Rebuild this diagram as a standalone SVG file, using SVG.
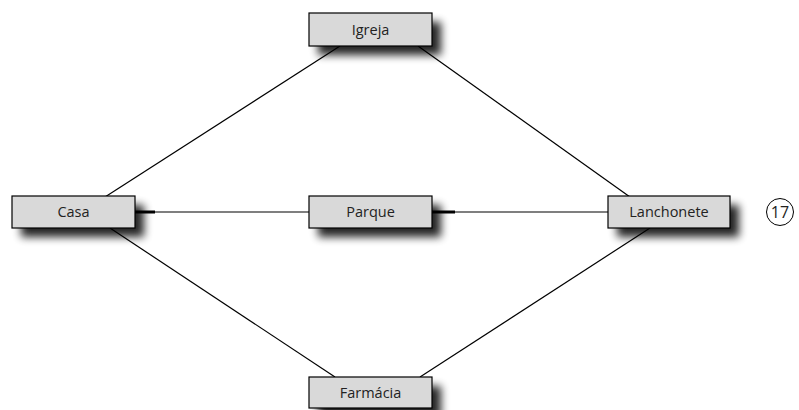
<svg xmlns="http://www.w3.org/2000/svg" width="799" height="410" viewBox="0 0 799 410">
<defs>
<filter id="sh" x="-30%" y="-60%" width="160%" height="220%">
<feGaussianBlur stdDeviation="4"/>
</filter>
<style>
.box{fill:#d9d9d9;stroke:#000;stroke-width:1.2}
.shd{fill:#000;opacity:0.85;filter:url(#sh)}
.lbl{font-family:"Open Sans","Noto Sans",sans-serif;font-size:14.5px;fill:#222;text-anchor:middle}
.ln{stroke:#000;stroke-width:1.2;fill:none}
.thick{stroke:#000;stroke-width:3;fill:none}
</style>
</defs>
<g id="connectors">
<line class="ln" x1="105" y1="197" x2="340" y2="46"/>
<line class="ln" x1="418" y1="46" x2="630" y2="197"/>
<line class="ln" x1="110" y1="228" x2="335" y2="377"/>
<line class="ln" x1="650" y1="228" x2="420" y2="377"/>
<line class="ln" x1="135" y1="212" x2="309" y2="212"/>
<line class="ln" x1="432" y1="212" x2="608" y2="212"/>
<line class="thick" x1="135" y1="212" x2="155" y2="212"/>
<line class="thick" x1="432" y1="212" x2="455" y2="212"/>
</g>
<g id="igreja">
<rect class="shd" x="318" y="22" width="123" height="33"/>
<rect class="box" x="309" y="13" width="123" height="33"/>
<text class="lbl" x="370.5" y="35">Igreja</text>
</g>
<g id="casa">
<rect class="shd" x="21" y="205" width="123" height="32"/>
<rect class="box" x="12" y="196" width="123" height="32"/>
<text class="lbl" x="73.5" y="217">Casa</text>
</g>
<g id="parque">
<rect class="shd" x="318" y="205" width="123" height="32"/>
<rect class="box" x="309" y="196" width="123" height="32"/>
<text class="lbl" x="370.5" y="217">Parque</text>
</g>
<g id="lanchonete">
<rect class="shd" x="617" y="205" width="122" height="32"/>
<rect class="box" x="608" y="196" width="122" height="32"/>
<text class="lbl" x="669" y="217">Lanchonete</text>
</g>
<g id="farmacia">
<rect class="shd" x="318" y="386" width="123" height="32"/>
<rect class="box" x="309" y="377" width="123" height="31"/>
<text class="lbl" x="370.5" y="398">Farmácia</text>
</g>
<g id="page">
<circle cx="780" cy="212" r="13.5" fill="none" stroke="#000" stroke-width="1"/>
<text class="lbl" x="780" y="218" style="font-size:16px">17</text>
</g>
</svg>
